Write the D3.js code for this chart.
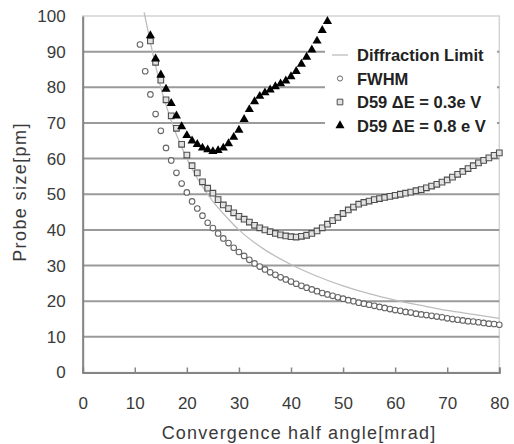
<!DOCTYPE html>
<html>
<head>
<meta charset="utf-8">
<script src="https://cdn.jsdelivr.net/npm/d3@7"></script>
<style>
  body { margin: 0; background: #fff; }
  text { font-family: "Liberation Sans", Arial, sans-serif; }
</style>
</head>
<body>
<script>
// data
var fwhmX = d3.range(11, 81);
var fwhmY = [92, 84.5, 78, 72.5, 67.8, 63, 59.5, 56, 53, 50.5,
  48, 46, 44, 42, 40.5, 39, 37.6, 36.3, 35, 33.8,
  32.7, 31.6, 30.6, 29.7, 28.9, 28.1, 27.4, 26.7, 26.1, 25.5,
  24.9, 24.3, 23.8, 23.3, 22.8, 22.3, 21.9, 21.5, 21.1, 20.7,
  20.3, 20, 19.6, 19.3, 19, 18.7, 18.4, 18.1, 17.8, 17.5,
  17.3, 17, 16.8, 16.5, 16.3, 16.1, 15.9, 15.7, 15.5, 15.2,
  15, 14.8, 14.6, 14.4, 14.3, 14.1, 13.9, 13.7, 13.6, 13.4];

var d03X = d3.range(13, 81);
var d03Y = [93, 87, 82, 76.5, 72, 68.5, 64, 61, 58, 56,
  53.5, 51.7, 50.3, 48.5, 47, 46, 44.8, 43.8, 43, 42.2,
  41.3, 40.6, 40, 39.5, 39, 38.6, 38.3, 38.1, 38, 38.2,
  38.5, 39, 39.7, 40.6, 41.6, 42.6, 43.5, 44.6, 45.6, 46.4,
  47.2, 47.7, 48.1, 48.5, 48.8, 49.1, 49.4, 49.7, 50, 50.3,
  50.6, 51, 51.3, 51.8, 52.3, 52.8, 53.4, 54, 54.8, 55.6,
  56.4, 57.2, 58, 58.8, 59.5, 60.2, 60.9, 61.6];

var d08X = d3.range(13, 48);
var d08Y = [94.5, 88, 83.5, 79.5, 75.5, 72, 69, 66.5, 65, 64,
  63, 62.5, 62, 62.3, 63, 64.2, 66, 68, 71, 73.8,
  76, 77.5, 78.5, 79.3, 80.2, 81, 81.8, 83, 84.5, 86.5,
  88.5, 90.5, 93, 96, 98.5];

var dlX = [11.8, 13, 14, 15, 16, 18, 20, 22, 25, 28, 30, 35, 40, 45, 50, 55, 60, 65, 70, 75, 80];
var dlY = [101, 92.5, 86, 80, 75, 66.7, 60, 54.5, 48, 43, 40, 34.4, 30.3, 27, 24.3, 22.1, 20.3, 18.8, 17.4, 16.3, 15.2];

var xTicks = [0, 10, 20, 30, 40, 50, 60, 70, 80];
var yTicks = [0, 10, 20, 30, 40, 50, 60, 70, 80, 90, 100];
var legendLabels = ["Diffraction Limit", "FWHM", "D59 \u0394E = 0.3e V", "D59 \u0394E = 0.8 e V"];

var w = 514, h = 444;
var X0 = 82.7, X1 = 499.3, Y0 = 372.5, Y1 = 16;

var SVG = d3.select("body").append("svg").attr("width", w).attr("height", h);

var x = d3.scaleLinear().domain([0, 80]).range([X0, X1]);
var y = d3.scaleLinear().domain([0, 100]).range([Y0, Y1]);

// frame
SVG.append("rect").attr("x", X0).attr("y", Y1).attr("width", X1 - X0).attr("height", Y0 - Y1)
   .attr("fill", "none").attr("stroke", "#d4d4d4").attr("stroke-width", 1.5);

// gridlines
SVG.append("g").selectAll("line").data(yTicks.slice(1, 10)).enter().append("line")
   .attr("x1", X0).attr("x2", X1)
   .attr("y1", function(d){ return y(d); }).attr("y2", function(d){ return y(d); })
   .attr("stroke", "#9a9a9a").attr("stroke-width", 2);

// axes
var yAxis = d3.axisLeft(y).tickValues(yTicks).tickSize(0).tickPadding(17);
var gy = SVG.append("g").attr("transform", "translate(" + X0 + ",0)").call(yAxis);
gy.select(".domain").attr("stroke", "#858585").attr("stroke-width", 2);
gy.selectAll("text").attr("font-size", 17).attr("fill", "#3a3a3a").attr("font-family", null);

var xAxis = d3.axisBottom(x).tickValues(xTicks).tickSize(-5).tickPadding(24);
var gx = SVG.append("g").attr("transform", "translate(0," + Y0 + ")").call(xAxis);
gx.select(".domain").attr("stroke", "#858585").attr("stroke-width", 2);
gx.selectAll(".tick line").attr("stroke", "#858585").attr("stroke-width", 1.5);
gx.selectAll("text").attr("font-size", 17).attr("fill", "#3a3a3a").attr("font-family", null);

// titles
SVG.append("text").attr("x", (X0 + X1) / 2 + 8).attr("y", 439).attr("text-anchor", "middle")
   .attr("font-size", 18).attr("letter-spacing", 1.2).attr("fill", "#3a3a3a")
   .text("Convergence half angle[mrad]");
SVG.append("text").attr("transform", "translate(26,192) rotate(-90)").attr("text-anchor", "middle")
   .attr("font-size", 18).attr("letter-spacing", 1.4).attr("fill", "#3a3a3a")
   .text("Probe size[pm]");

// diffraction limit
var line = d3.line().x(function(d){ return x(d[0]); }).y(function(d){ return y(d[1]); }).curve(d3.curveMonotoneX);
SVG.append("path").datum(d3.zip(dlX, dlY)).attr("d", line)
   .attr("fill", "none").attr("stroke", "#bdbdbd").attr("stroke-width", 1.3);

// FWHM
SVG.append("g").selectAll("circle").data(d3.zip(fwhmX, fwhmY)).enter().append("circle")
   .attr("cx", function(d){ return x(d[0]); }).attr("cy", function(d){ return y(d[1]); })
   .attr("r", 2.8).attr("fill", "#fff").attr("stroke", "#666").attr("stroke-width", 1.1);

// D59 0.3 eV
var sq = d3.symbol().type(d3.symbolSquare).size(32);
SVG.append("g").selectAll("path").data(d3.zip(d03X, d03Y)).enter().append("path")
   .attr("d", sq).attr("transform", function(d){ return "translate(" + x(d[0]) + "," + y(d[1]) + ")"; })
   .attr("fill", "#e2e2e2").attr("stroke", "#4e4e4e").attr("stroke-width", 1.1);

// D59 0.8 eV
var tri = d3.symbol().type(d3.symbolTriangle).size(36);
SVG.append("g").selectAll("path").data(d3.zip(d08X, d08Y)).enter().append("path")
   .attr("d", tri).attr("transform", function(d){ return "translate(" + x(d[0]) + "," + y(d[1]) + ")"; })
   .attr("fill", "#000");

// legend
var LEG = SVG.append("g");
LEG.append("rect").attr("x", 325).attr("y", 40).attr("width", 172).attr("height", 98).attr("fill", "#fff");
var ly = [55, 78.5, 102, 125.5];
LEG.append("line").attr("x1", 332).attr("x2", 348).attr("y1", ly[0]).attr("y2", ly[0])
   .attr("stroke", "#bdbdbd").attr("stroke-width", 1.3);
LEG.append("circle").attr("cx", 340).attr("cy", ly[1]).attr("r", 2.6)
   .attr("fill", "#fff").attr("stroke", "#666");
LEG.append("path").attr("d", sq).attr("transform", "translate(340," + ly[2] + ")")
   .attr("fill", "#e2e2e2").attr("stroke", "#4e4e4e");
LEG.append("path").attr("d", tri).attr("transform", "translate(340," + ly[3] + ")").attr("fill", "#000");
LEG.selectAll("text.lab").data(legendLabels).enter().append("text").attr("class", "lab")
   .attr("x", 357).attr("y", function(d, i){ return ly[i] + 6; })
   .attr("font-size", 16.5).attr("font-weight", "bold").attr("fill", "#222")
   .text(function(d){ return d; });
</script>
</body>
</html>
